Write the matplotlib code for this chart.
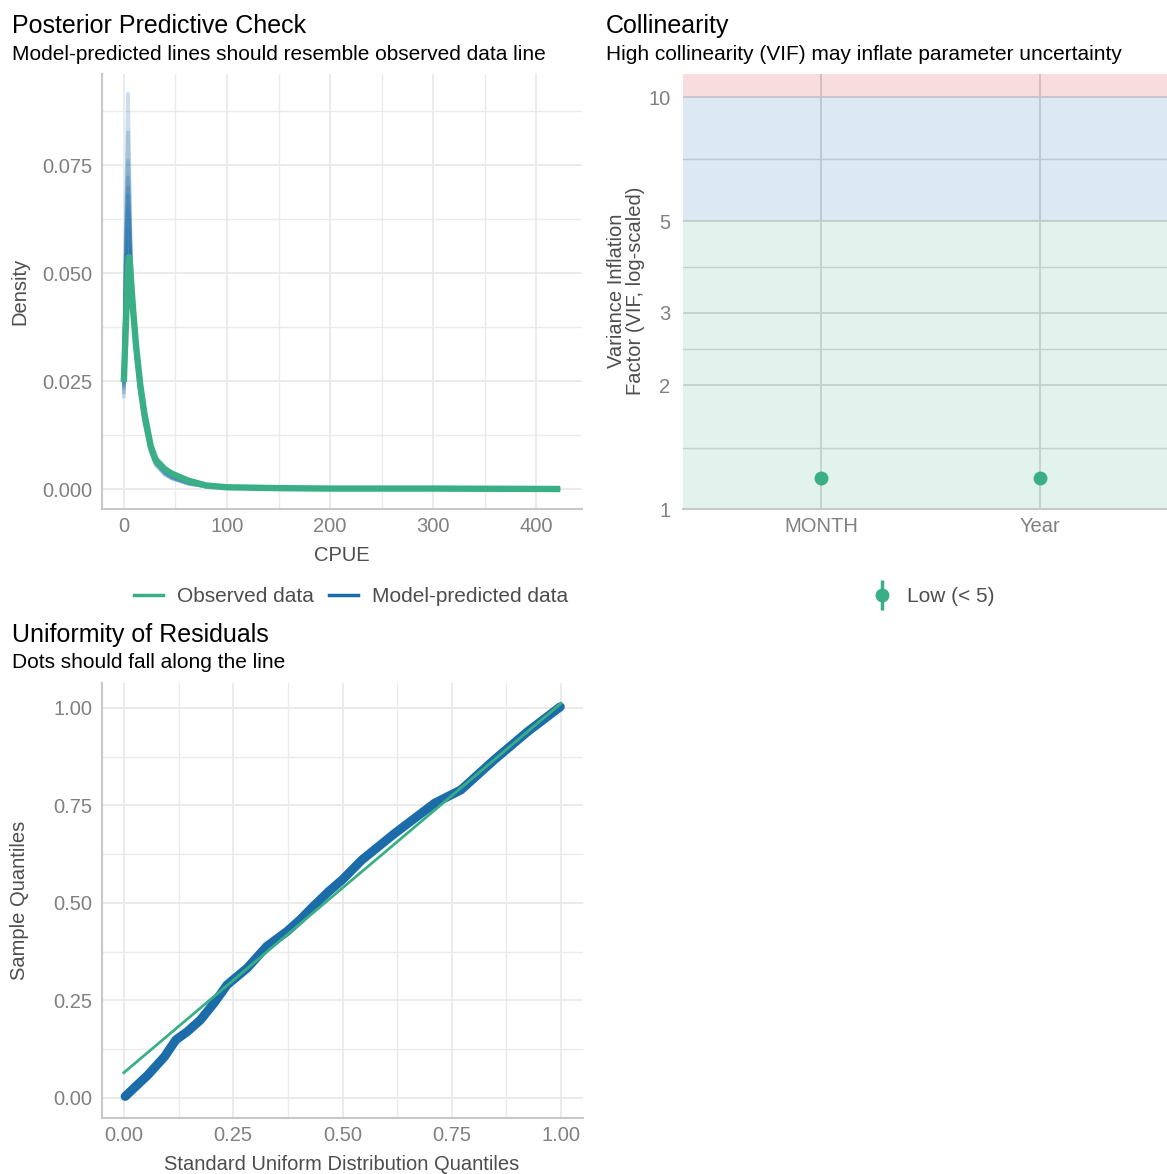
import matplotlib
matplotlib.use("Agg")
import matplotlib.pyplot as plt
from matplotlib.lines import Line2D
from matplotlib.legend_handler import HandlerTuple
import numpy as np

plt.rcParams['font.family'] = ['Liberation Sans', 'DejaVu Sans']

BLUE = '#1b6ca8'
GREEN = '#3aaf85'
RED = '#cd201f'
GRID = '#ebebeb'
TICK = '#808080'
LABEL = '#4d4d4d'

## Posterior predictive check: density of CPUE
cpue = [0, 2, 4, 5, 6, 7, 9, 12, 16, 20, 26, 31, 40, 47, 63, 80, 100, 150, 200, 300, 423]
observed = [0.0248, 0.0380, 0.0510, 0.0537, 0.0518, 0.0482, 0.0415, 0.0328, 0.0240, 0.0174,
            0.0100, 0.0066, 0.0045, 0.0035, 0.0019, 0.0008, 0.0004, 0.0002, 0.0001, 0.0001, 0.0000]
# model-predicted densities, one list per posterior draw
draws = [
    [0.0210, 0.0600, 0.0915, 0.0780, 0.0640, 0.0540, 0.0430, 0.0315, 0.0215, 0.0150, 0.0085, 0.0055, 0.0033, 0.0024, 0.0012, 0.0006, 0.0003, 0.0001, 0.0001, 0.0000, 0.0000],
    [0.0230, 0.0580, 0.0826, 0.0720, 0.0610, 0.0520, 0.0420, 0.0310, 0.0220, 0.0155, 0.0090, 0.0060, 0.0036, 0.0026, 0.0013, 0.0006, 0.0003, 0.0001, 0.0001, 0.0000, 0.0000],
    [0.0250, 0.0560, 0.0760, 0.0680, 0.0590, 0.0510, 0.0420, 0.0320, 0.0225, 0.0160, 0.0095, 0.0062, 0.0038, 0.0027, 0.0014, 0.0007, 0.0003, 0.0001, 0.0001, 0.0000, 0.0000],
    [0.0240, 0.0540, 0.0721, 0.0660, 0.0580, 0.0505, 0.0415, 0.0318, 0.0230, 0.0165, 0.0098, 0.0066, 0.0042, 0.0030, 0.0016, 0.0008, 0.0004, 0.0001, 0.0001, 0.0000, 0.0000],
    [0.0260, 0.0530, 0.0698, 0.0650, 0.0570, 0.0500, 0.0410, 0.0320, 0.0232, 0.0168, 0.0102, 0.0070, 0.0046, 0.0033, 0.0018, 0.0009, 0.0004, 0.0002, 0.0001, 0.0000, 0.0000],
    [0.0220, 0.0520, 0.0680, 0.0635, 0.0560, 0.0495, 0.0405, 0.0312, 0.0228, 0.0162, 0.0092, 0.0058, 0.0034, 0.0024, 0.0012, 0.0006, 0.0003, 0.0001, 0.0000, 0.0000, 0.0000],
    [0.0270, 0.0510, 0.0650, 0.0615, 0.0550, 0.0490, 0.0410, 0.0325, 0.0238, 0.0172, 0.0106, 0.0074, 0.0050, 0.0036, 0.0020, 0.0010, 0.0005, 0.0002, 0.0001, 0.0000, 0.0000],
    [0.0235, 0.0490, 0.0600, 0.0585, 0.0540, 0.0485, 0.0405, 0.0318, 0.0232, 0.0166, 0.0096, 0.0064, 0.0040, 0.0029, 0.0015, 0.0007, 0.0003, 0.0001, 0.0001, 0.0000, 0.0000],
    [0.0245, 0.0470, 0.0570, 0.0565, 0.0530, 0.0480, 0.0402, 0.0315, 0.0228, 0.0160, 0.0090, 0.0058, 0.0036, 0.0026, 0.0013, 0.0006, 0.0003, 0.0001, 0.0000, 0.0000, 0.0000],
    [0.0255, 0.0460, 0.0550, 0.0550, 0.0525, 0.0478, 0.0408, 0.0322, 0.0236, 0.0170, 0.0104, 0.0072, 0.0048, 0.0034, 0.0019, 0.0009, 0.0004, 0.0002, 0.0001, 0.0000, 0.0000],
]

## Collinearity (VIF)
terms = ['MONTH', 'Year']
vif = [1.19, 1.19]
vif_ticks = [1, 2, 3, 5, 10]
vif_minor = [1.41, 2.45, 3.87, 7.07]

## Uniformity of residuals (QQ against standard uniform)
qq_theory = [0.003, 0.055, 0.093, 0.119, 0.145, 0.175, 0.206, 0.236, 0.282, 0.327, 0.373,
             0.403, 0.433, 0.468, 0.500, 0.544, 0.620, 0.711, 0.771, 0.847, 0.923, 0.998]
qq_sample = [0.004, 0.059, 0.106, 0.149, 0.170, 0.200, 0.243, 0.290, 0.333, 0.389, 0.427,
             0.457, 0.491, 0.529, 0.560, 0.610, 0.679, 0.756, 0.790, 0.867, 0.939, 1.003]
qq_line_x = [0.0, 1.0]
qq_line_y = [0.065, 1.012]

W, H = 1167, 1174
fig = plt.figure(figsize=(W / 100, H / 100), dpi=100)


def box(left, top, right, bottom):
    return [left / W, 1 - bottom / H, (right - left) / W, (bottom - top) / H]


def ftext(x, y, s, **kw):
    fig.text(x / W, 1 - y / H, s, **kw)


def style(ax, left_spine=True):
    for side in ['top', 'right', 'left', 'bottom']:
        ax.spines[side].set_visible(False)
    ax.spines['bottom'].set_visible(True)
    ax.spines['bottom'].set_color('#c8c8c8')
    ax.spines['bottom'].set_linewidth(1.5)
    if left_spine:
        ax.spines['left'].set_visible(True)
        ax.spines['left'].set_color('#c8c8c8')
        ax.spines['left'].set_linewidth(1.5)
    ax.set_axisbelow(True)
    ax.grid(which='major', color=GRID, linewidth=1.4)
    ax.grid(which='minor', color=GRID, linewidth=1.0)
    ax.tick_params(which='both', length=0, labelsize=14.5, labelcolor=TICK)
    ax.tick_params(axis='y', pad=7)
    ax.tick_params(axis='x', pad=6)


# --- Posterior predictive check
ax1 = fig.add_axes(box(102, 74, 582, 509))
style(ax1)
for d in draws:
    ax1.plot(cpue, d, color=BLUE, alpha=0.22, lw=2.8, solid_capstyle='butt')
ax1.plot(cpue, observed, color=GREEN, lw=4.6, solid_capstyle='butt', solid_joinstyle='round')
ax1.set_xlim(-21.15, 444.2)
ax1.set_ylim(-0.00463, 0.0961)
ax1.set_xticks([0, 100, 200, 300, 400])
ax1.set_xticks([50, 150, 250, 350], minor=True)
ax1.set_yticks([0, 0.025, 0.05, 0.075])
ax1.set_yticklabels(['0.000', '0.025', '0.050', '0.075'])
ax1.set_yticks([0.0125, 0.0375, 0.0625, 0.0875], minor=True)
ax1.tick_params(which='minor', labelleft=False, labelbottom=False)

ftext(12, 26, 'Posterior Predictive Check', fontsize=18, va='center', ha='left')
ftext(12, 54, 'Model-predicted lines should resemble observed data line', fontsize=15, va='center', ha='left')
ftext(20, 291, 'Density', fontsize=14.5, color=LABEL, rotation=90, va='center', ha='center')
ftext(342, 556, 'CPUE', fontsize=14.5, color=LABEL, va='center', ha='center')

h_obs = Line2D([], [], color=GREEN, lw=2.5)
h_pred = Line2D([], [], color=BLUE, lw=2.5)
fig.legend([h_obs, h_pred], ['Observed data', 'Model-predicted data'], ncol=2,
           loc='center', bbox_to_anchor=(351 / W, 1 - 597 / H), frameon=False,
           fontsize=15, labelcolor=LABEL, handlelength=1.4, handletextpad=0.65,
           columnspacing=0.75)

# --- Collinearity
ax2 = fig.add_axes(box(683, 74, 1167, 509))
style(ax2, left_spine=False)
ax2.set_yscale('log')
ax2.set_ylim(1.0, 11.4)
ax2.set_xlim(0.37, 2.58)
ax2.axhspan(0.5, 5, color=GREEN, alpha=0.15, lw=0)
ax2.axhspan(5, 10, color=BLUE, alpha=0.15, lw=0)
ax2.axhspan(10, 20, color=RED, alpha=0.15, lw=0)
ax2.plot([1, 2], vif, 'o', color=GREEN, ms=9, zorder=3)
ax2.set_xticks([1, 2])
ax2.set_xticklabels(terms)
ax2.set_yticks(vif_ticks)
ax2.set_yticklabels([str(t) for t in vif_ticks])
ax2.set_yticks(vif_minor, minor=True)
ax2.yaxis.set_minor_formatter(matplotlib.ticker.NullFormatter())
ax2.grid(which='major', color='#dadada', linewidth=1.4)
ax2.grid(which='minor', axis='y', color='#dadada', linewidth=1.0)
ax2.grid(which='minor', axis='x', visible=False)
ax2.tick_params(axis='y', pad=9)

ftext(606, 26, 'Collinearity', fontsize=18, va='center', ha='left')
ftext(606, 54, 'High collinearity (VIF) may inflate parameter uncertainty', fontsize=15, va='center', ha='left')
ftext(626, 291, 'Variance Inflation\nFactor (VIF, log-scaled)', fontsize=14.5, color=LABEL,
      rotation=90, va='center', ha='center', linespacing=1.05)

h_dot = Line2D([], [], marker='o', color=GREEN, ms=9, lw=0)
h_bar = Line2D([], [], marker='|', color=GREEN, ms=22, mew=2.5, lw=0)
fig.legend([(h_bar, h_dot)], ['Low (< 5)'], loc='center',
           bbox_to_anchor=(934 / W, 1 - 597 / H), frameon=False, fontsize=15,
           labelcolor=LABEL, handler_map={tuple: HandlerTuple(ndivide=1)},
           handlelength=0.9, handletextpad=0.75)

# --- Uniformity of residuals
ax3 = fig.add_axes(box(102, 683, 583, 1118))
style(ax3)
ax3.plot(qq_theory, qq_sample, color=BLUE, lw=6.5, solid_capstyle='round',
         solid_joinstyle='round', zorder=2)
ax3.plot(qq_line_x, qq_line_y, color=GREEN, lw=2, zorder=3)
ax3.set_xlim(-0.05, 1.05)
ax3.set_ylim(-0.0513, 1.064)
ax3.set_xticks([0, 0.25, 0.5, 0.75, 1.0])
ax3.set_xticklabels(['0.00', '0.25', '0.50', '0.75', '1.00'])
ax3.set_xticks([0.125, 0.375, 0.625, 0.875], minor=True)
ax3.set_yticks([0, 0.25, 0.5, 0.75, 1.0])
ax3.set_yticklabels(['0.00', '0.25', '0.50', '0.75', '1.00'])
ax3.set_yticks([0.125, 0.375, 0.625, 0.875], minor=True)
ax3.tick_params(which='minor', labelleft=False, labelbottom=False)

ftext(12, 635, 'Uniformity of Residuals', fontsize=18, va='center', ha='left')
ftext(12, 663, 'Dots should fall along the line', fontsize=15, va='center', ha='left')
ftext(20, 900, 'Sample Quantiles', fontsize=14.5, color=LABEL, rotation=90, va='center', ha='center')
ftext(342, 1165, 'Standard Uniform Distribution Quantiles', fontsize=14.5, color=LABEL,
      va='center', ha='center')

fig.savefig('out.png', dpi=100, facecolor='white')
